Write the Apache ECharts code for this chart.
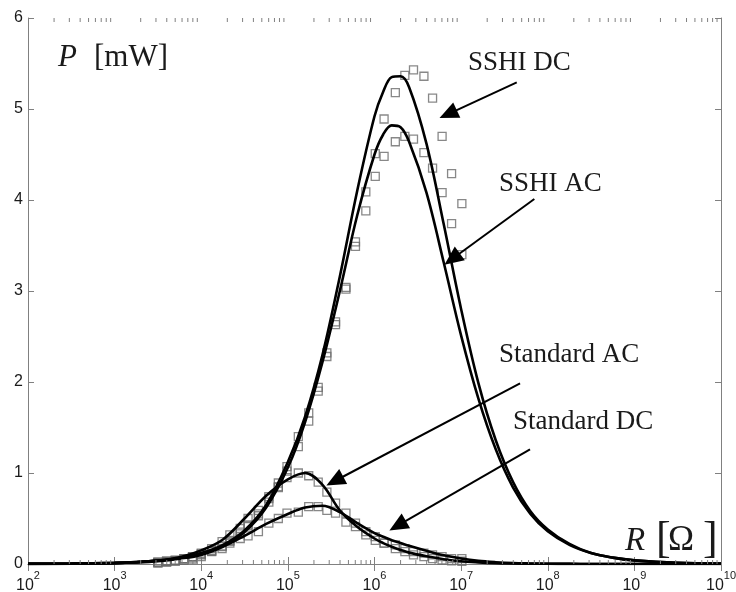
<!DOCTYPE html>
<html>
<head>
<meta charset="utf-8">
<script src="https://cdn.jsdelivr.net/npm/echarts@6/dist/echarts.min.js"></script>
<style>html,body{margin:0;padding:0;background:#fff}#c{width:736px;height:592px}</style>
</head>
<body>
<div id="c"></div>
<script>
// ---- Data ----
// Resistance grid for the model curves (ohm)
const curveR = [1e2, 3.16e2, 1e3, 1.78e3, 3.16e3, 5.62e3, 1e4, 1.78e4, 3.16e4, 5.62e4, 1e5, 1.58e5, 2.51e5, 3.98e5, 6.31e5, 1e6, 1.26e6, 1.58e6, 2e6, 2.51e6, 3.98e6, 6.31e6, 1e7, 1.58e7, 2.51e7, 3.98e7, 6.31e7, 1e8, 1.78e8, 3.16e8, 5.62e8, 1e9, 3.16e9, 1e10];
// Power (mW) of each model curve on that grid
const sshiDcCurve = [0.001, 0.004, 0.012, 0.021, 0.037, 0.066, 0.12, 0.21, 0.37, 0.65, 1.12, 1.62, 2.3, 3.16, 4.1, 4.92, 5.19, 5.35, 5.36, 5.24, 4.62, 3.73, 2.8, 1.99, 1.36, 0.9, 0.58, 0.38, 0.22, 0.12, 0.07, 0.04, 0.012, 0.004];
const sshiAcCurve = [0.001, 0.004, 0.012, 0.021, 0.037, 0.065, 0.115, 0.2, 0.35, 0.62, 1.06, 1.56, 2.22, 3.0, 3.83, 4.5, 4.72, 4.82, 4.8, 4.64, 4.08, 3.31, 2.51, 1.82, 1.26, 0.84, 0.55, 0.36, 0.21, 0.12, 0.07, 0.04, 0.012, 0.004];
const stdAcCurve = [0.001, 0.003, 0.01, 0.02, 0.038, 0.075, 0.15, 0.27, 0.5, 0.75, 0.93, 1.0, 0.87, 0.59, 0.41, 0.28, 0.23, 0.19, 0.155, 0.125, 0.085, 0.053, 0.03, 0.018, 0.01, 0.006, 0.003, 0.002, 0.001, 0, 0, 0, 0, 0];
const stdDcCurve = [0.001, 0.003, 0.009, 0.016, 0.03, 0.058, 0.1, 0.19, 0.31, 0.44, 0.55, 0.62, 0.64, 0.57, 0.45, 0.34, 0.3, 0.26, 0.23, 0.2, 0.145, 0.095, 0.06, 0.035, 0.02, 0.01, 0.006, 0.003, 0.001, 0, 0, 0, 0, 0];

// Measured points (squares)
const measR = [3.16e3, 3.98e3, 5.01e3, 6.31e3, 7.94e3, 1e4, 1.32e4, 1.74e4, 2.14e4, 2.82e4, 3.47e4, 4.57e4, 6.03e4, 7.76e4, 9.77e4, 1.32e5, 1.74e5, 2.24e5, 2.82e5, 3.55e5, 4.68e5, 6.03e5, 7.94e5, 1.02e6, 1.29e6, 1.74e6, 2.24e6, 2.82e6, 3.72e6, 4.68e6, 6.03e6, 7.76e6, 1.02e7];
const sshiDcMeasP = [0.02, 0.03, 0.04, 0.06, 0.08, 0.11, 0.15, 0.2, 0.26, 0.35, 0.43, 0.55, 0.72, 0.89, 1.07, 1.40, 1.66, 1.94, 2.32, 2.66, 3.04, 3.54, 4.09, 4.51, 4.89, 5.18, 5.37, 5.43, 5.36, 5.12, 4.70, 4.29, 3.96];
const sshiAcMeasP = [0.02, 0.03, 0.04, 0.055, 0.075, 0.1, 0.14, 0.19, 0.25, 0.33, 0.42, 0.53, 0.68, 0.84, 1.02, 1.29, 1.57, 1.90, 2.28, 2.63, 3.02, 3.49, 3.88, 4.26, 4.48, 4.64, 4.70, 4.67, 4.52, 4.35, 4.08, 3.74, 3.40];
const stdAcMeasP = [0.015, 0.025, 0.04, 0.06, 0.08, 0.12, 0.17, 0.245, 0.32, 0.39, 0.50, 0.59, 0.74, 0.85, 0.95, 1.0, 0.97, 0.90, 0.79, 0.67, 0.56, 0.45, 0.355, 0.30, 0.23, 0.17, 0.135, 0.10, 0.08, 0.06, 0.044, 0.035, 0.03];
const stdDcMeasP = [0.01, 0.02, 0.03, 0.04, 0.055, 0.08, 0.135, 0.17, 0.23, 0.28, 0.31, 0.355, 0.45, 0.50, 0.56, 0.57, 0.63, 0.63, 0.59, 0.56, 0.46, 0.41, 0.32, 0.26, 0.23, 0.21, 0.17, 0.135, 0.12, 0.10, 0.08, 0.06, 0.06];

// Axis ticks
const yTicks = [0, 1, 2, 3, 4, 5, 6];
const xDecades = [2, 3, 4, 5, 6, 7, 8, 9, 10];
const minorMultipliers = [2, 3, 4, 5, 6, 7, 8, 9];

// Annotation labels and arrows (start -> end, in data units [R, P])
const annotLabels = ['SSHI DC', 'SSHI AC', 'Standard AC', 'Standard DC'];
const arrowStart = [[4.39e7, 5.293], [7.0e7, 4.011], [4.79e7, 1.986], [6.24e7, 1.26]];
const arrowEnd = [[7.08e6, 4.944], [7.87e6, 3.351], [3.48e5, 0.912], [1.85e6, 0.421]];

// ---- Build ----
function zip(xs, ys) { return xs.map((x, i) => [x, ys[i]]); }
const minorTickR = [];
xDecades.slice(0, -1).forEach(d => minorMultipliers.forEach(m => minorTickR.push([m * Math.pow(10, d), 0])));

const AX = '#808080';
const TXT = '#1a1a1a';
const SANS = '"Liberation Sans", Arial, sans-serif';
const SERIF = '"Liberation Serif", "Times New Roman", serif';

const lineBase = { type: 'line', showSymbol: false, smooth: 0.35, z: 3, silent: true,
  lineStyle: { color: '#000', width: 2.6 } };
const scatterBase = { type: 'scatter', symbol: 'rect', symbolSize: 8, z: 2, silent: true,
  itemStyle: { color: 'rgba(255,255,255,0)', borderColor: '#6a6a6a', borderWidth: 1.3 } };

const xAxisBase = {
  type: 'log', logBase: 10, min: 1e2, max: 1e10, splitNumber: 8,
  axisLine: { lineStyle: { color: AX, width: 1 } },
  axisTick: { inside: true, length: 7, lineStyle: { color: AX } },
  splitLine: { show: false }, minorTick: { show: false }
};
const yAxisBase = {
  type: 'value', min: yTicks[0], max: yTicks[yTicks.length - 1], interval: 1,
  axisLine: { show: true, lineStyle: { color: AX, width: 1 } },
  axisTick: { show: true, inside: true, length: 6, lineStyle: { color: AX } },
  splitLine: { show: false }
};

const chart = echarts.init(document.getElementById('c'), null, { renderer: 'canvas' });
chart.setOption({
  animation: false,
  backgroundColor: '#fff',
  grid: { left: 28, right: 15, top: 18, bottom: 28, containLabel: false, outerBoundsMode: 'none' },
  xAxis: [
    Object.assign({}, xAxisBase, {
      position: 'bottom',
      axisLabel: {
        margin: 6,
        formatter: v => '{b|10}{s|' + Math.round(Math.log10(v)) + '}',
        rich: {
          b: { fontSize: 16, fontFamily: SANS, color: TXT, lineHeight: 24, verticalAlign: 'bottom' },
          s: { fontSize: 11, fontFamily: SANS, color: TXT, lineHeight: 10, verticalAlign: 'top' }
        }
      }
    }),
    Object.assign({}, xAxisBase, { position: 'top', axisLabel: { show: false } })
  ],
  yAxis: [
    Object.assign({}, yAxisBase, { position: 'left',
      axisLabel: { margin: 5, fontSize: 16, fontFamily: SANS, color: TXT } }),
    Object.assign({}, yAxisBase, { position: 'right', axisLabel: { show: false } })
  ],
  series: [
    Object.assign({}, scatterBase, { name: 'SSHI DC meas', data: zip(measR, sshiDcMeasP) }),
    Object.assign({}, scatterBase, { name: 'SSHI AC meas', data: zip(measR, sshiAcMeasP) }),
    Object.assign({}, scatterBase, { name: 'Std AC meas', data: zip(measR, stdAcMeasP) }),
    Object.assign({}, scatterBase, { name: 'Std DC meas', data: zip(measR, stdDcMeasP) }),
    Object.assign({}, lineBase, { name: 'SSHI DC', data: zip(curveR, sshiDcCurve) }),
    Object.assign({}, lineBase, { name: 'SSHI AC', data: zip(curveR, sshiAcCurve) }),
    Object.assign({}, lineBase, { name: 'Standard AC', data: zip(curveR, stdAcCurve) }),
    Object.assign({}, lineBase, { name: 'Standard DC', data: zip(curveR, stdDcCurve),
      markLine: {
        silent: true, animation: false,
        symbol: ['none', 'triangle'], symbolSize: [17, 19],
        label: { show: false },
        lineStyle: { color: '#000', width: 2, type: 'solid' },
        itemStyle: { color: '#000' },
        data: arrowStart.map((s, i) => [{ coord: s }, { coord: arrowEnd[i] }])
      }
    }),
    {
      type: 'custom', name: 'minor ticks', silent: true, clip: false, z: 4,
      data: minorTickR, encode: { x: 0, y: 1 },
      renderItem: function (params, api) {
        const pb = api.coord([api.value(0), yTicks[0]]);
        const pt = api.coord([api.value(0), yTicks[yTicks.length - 1]]);
        const st = { stroke: AX, lineWidth: 1 };
        return { type: 'group', children: [
          { type: 'line', shape: { x1: pb[0], y1: pb[1], x2: pb[0], y2: pb[1] - 4 }, style: st },
          { type: 'line', shape: { x1: pt[0], y1: pt[1], x2: pt[0], y2: pt[1] + 4 }, style: st }
        ] };
      }
    }
  ],
  graphic: [
    { type: 'text', x: 58, y: 58, style: { text: 'P', font: 'italic 31px ' + SERIF, fill: TXT, verticalAlign: 'middle' } },
    { type: 'text', x: 94, y: 58, style: { text: '[mW]', font: '31px ' + SERIF, fill: TXT, verticalAlign: 'middle' } },
    { type: 'text', x: 625, y: 541, style: { text: 'R', font: 'italic 33px ' + SERIF, fill: TXT, verticalAlign: 'middle' } },
    { type: 'text', x: 656, y: 540, style: { text: '[', font: '44px ' + SERIF, fill: TXT, verticalAlign: 'middle' } },
    { type: 'text', x: 668, y: 541, style: { text: 'Ω', font: '35px ' + SERIF, fill: TXT, verticalAlign: 'middle' } },
    { type: 'text', x: 703, y: 540, style: { text: ']', font: '44px ' + SERIF, fill: TXT, verticalAlign: 'middle' } },
    { type: 'text', x: 468, y: 63, style: { text: annotLabels[0], font: '27px ' + SERIF, fill: TXT, verticalAlign: 'middle' } },
    { type: 'text', x: 499, y: 184, style: { text: annotLabels[1], font: '27px ' + SERIF, fill: TXT, verticalAlign: 'middle' } },
    { type: 'text', x: 499, y: 355, style: { text: annotLabels[2], font: '27px ' + SERIF, fill: TXT, verticalAlign: 'middle' } },
    { type: 'text', x: 513, y: 422, style: { text: annotLabels[3], font: '27px ' + SERIF, fill: TXT, verticalAlign: 'middle' } }
  ]
});
</script>
</body>
</html>
